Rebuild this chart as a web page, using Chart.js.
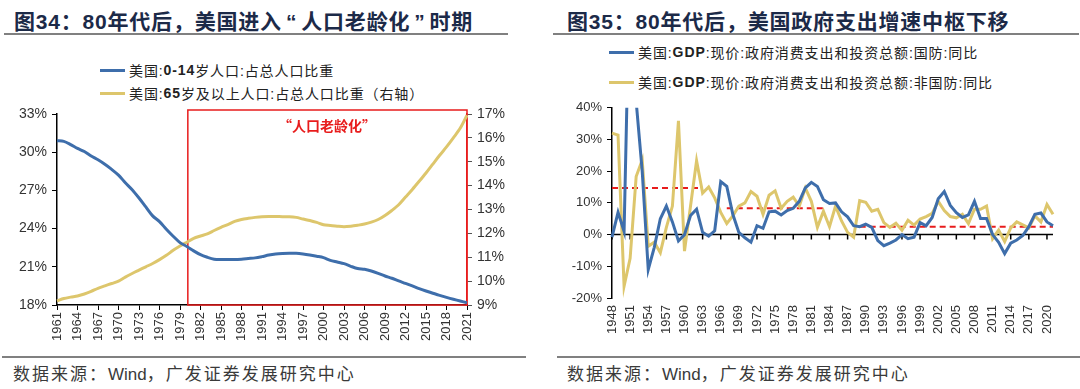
<!DOCTYPE html>
<html>
<head>
<meta charset="utf-8">
<script src="https://cdn.jsdelivr.net/npm/chart.js@4.4.1/dist/chart.umd.min.js"></script>
<style>
  body { margin: 0; width: 1080px; height: 389px; background: #fff; position: relative; overflow: hidden;
         font-family: "Liberation Sans", "Noto Sans CJK SC", sans-serif; }
  .title { position: absolute; top: 5px; font-size: 21px; font-weight: bold; color: #1c2a48; white-space: nowrap; letter-spacing: 0.8px; }
  .title .q { margin: 0 4px; }
  .rule { position: absolute; height: 2px; background: #808080; }
  .leg { position: absolute; font-size: 14px; color: #222; white-space: nowrap; display: flex; align-items: center; height: 18px; letter-spacing: 0.9px; }
  .leg i { display: inline-block; width: 25px; height: 3px; margin-right: 4px; }
  .src { position: absolute; top: 360px; font-size: 17px; color: #3a3a3a; letter-spacing: 2px;
         font-family: "Liberation Sans", "Noto Sans CJK SC", sans-serif; }
  .src span { letter-spacing: 0; }
  canvas { position: absolute; }
</style>
</head>
<body>

<div class="title" style="left:14px">图34：80年代后，美国进入<span class="q">“</span>人口老龄化<span class="q">”</span>时期</div>
<div class="rule" style="left:4px; width:504px; top:33px"></div>
<div class="leg" style="left:100px; top:61px"><i style="background:#3e6eab"></i>美国:<b>0-14</b>岁人口:占总人口比重</div>
<div class="leg" style="left:100px; top:84px"><i style="background:#ddc66c"></i>美国:<b>65</b>岁及以上人口:占总人口比重（右轴）</div>
<canvas id="chart34" width="520" height="250" style="left:0; top:100px"></canvas>
<div class="rule" style="left:2px; width:524px; top:356px"></div>
<div class="src" style="left:13px">数据来源：<span>Wind</span>，广发证券发展研究中心</div>

<div class="title" style="left:567px">图35：80年代后，美国政府支出增速中枢下移</div>
<div class="rule" style="left:553px; width:526px; top:33px"></div>
<div class="leg" style="left:609px; top:43px"><i style="background:#3e6eab"></i>美国:<b>GDP</b>:现价:政府消费支出和投资总额:国防:同比</div>
<div class="leg" style="left:609px; top:73px"><i style="background:#ddc66c"></i>美国:<b>GDP</b>:现价:政府消费支出和投资总额:非国防:同比</div>
<canvas id="chart35" width="540" height="255" style="left:540px; top:95px"></canvas>
<div class="rule" style="left:557px; width:523px; top:356px"></div>
<div class="src" style="left:567px">数据来源：<span>Wind</span>，广发证券发展研究中心</div>

<script>
// 图34 人口结构
const popYears = [
  '1961','1962','1963','1964','1965','1966','1967','1968','1969','1970',
  '1971','1972','1973','1974','1975','1976','1977','1978','1979','1980',
  '1981','1982','1983','1984','1985','1986','1987','1988','1989','1990',
  '1991','1992','1993','1994','1995','1996','1997','1998','1999','2000',
  '2001','2002','2003','2004','2005','2006','2007','2008','2009','2010',
  '2011','2012','2013','2014','2015','2016','2017','2018','2019','2020','2021'
];
const kidsShare = [
  30.9, 30.85, 30.6, 30.3, 30.05, 29.7, 29.4, 29.05, 28.65, 28.2,
  27.6, 27.05, 26.4, 25.7, 25.0, 24.55, 23.95, 23.4, 22.9, 22.6,
  22.25, 21.95, 21.75, 21.6, 21.57, 21.57, 21.57, 21.6, 21.65, 21.7,
  21.8, 21.92, 22.0, 22.04, 22.06, 22.06, 22.01, 21.93, 21.83, 21.72,
  21.51, 21.38, 21.25, 21.04, 20.86, 20.8, 20.67, 20.49, 20.28, 20.1,
  19.89, 19.7, 19.5, 19.29, 19.1, 18.92, 18.76, 18.6, 18.45, 18.31, 18.18
];
const elderShare = [
  9.17, 9.27, 9.33, 9.38, 9.46, 9.57, 9.7, 9.8, 9.9, 10.0,
  10.17, 10.32, 10.46, 10.6, 10.74, 10.9, 11.08, 11.29, 11.47, 11.63,
  11.79, 11.89, 11.98, 12.12, 12.25, 12.37, 12.5, 12.58, 12.63, 12.67,
  12.7, 12.71, 12.71, 12.7, 12.7, 12.67, 12.6, 12.54, 12.46, 12.36,
  12.33, 12.3, 12.28, 12.3, 12.34, 12.39, 12.47, 12.58, 12.75, 12.96,
  13.2, 13.52, 13.84, 14.18, 14.53, 14.9, 15.27, 15.62, 16.0, 16.4, 16.95
];
const agingStart = '1980';
const agingLabel = '“人口老龄化”';

// 图35 政府支出
const govYears = [
  '1948','1949','1950','1951','1952','1953','1954','1955','1956','1957',
  '1958','1959','1960','1961','1962','1963','1964','1965','1966','1967',
  '1968','1969','1970','1971','1972','1973','1974','1975','1976','1977',
  '1978','1979','1980','1981','1982','1983','1984','1985','1986','1987',
  '1988','1989','1990','1991','1992','1993','1994','1995','1996','1997',
  '1998','1999','2000','2001','2002','2003','2004','2005','2006','2007',
  '2008','2009','2010','2011','2012','2013','2014','2015','2016','2017',
  '2018','2019','2020','2021'
];
const defenseYoY = [
  -0.8, 7, 1, 88, 42, 20, -11, -4, 5, 9,
  4, -2, 0, 6, 8, 0.7, -0.5, 1.2, 16.7, 15.2,
  6.4, 0.7, -1, -2.4, 2.8, 2, 7.2, 7.4, 6.2, 7.6,
  8.3, 10.5, 14.7, 16.5, 15.2, 11, 9.8, 10, 7.2, 5.6,
  2.8, 2.5, 3.3, 2.3, -1.9, -3.5, -2.7, -1.7, 0, -1.3,
  -0.8, 3.8, 2.8, 5.4, 11.3, 13.6, 9.2, 6.9, 5.4, 6.2,
  10.5, 5.1, 5.1, 0, -2.4, -6, -2.7, -1.7, -0.3, 2.5,
  6.4, 6.8, 4, 2.8
];
const nonDefenseYoY = [
  32, 31.4, -16.3, -7.5, 18.3, 23.5, -3.7, -2.4, -5.7, 2.3,
  9, 35.9, -5.2, 9, 23.3, 13.1, 15, 11.6, 7, 3.5,
  5.9, 9, 10, 13.6, 12.1, 6.4, 12.4, 13.8, 8.3, 10.5,
  11.8, 9, 14.7, 10.5, 2.3, 7.4, 2.5, 9, 4.3, 0.7,
  -0.8, 10.7, 10.2, 7.4, 8, 3.8, 2.3, 3.6, 1.4, 4.5,
  3, 4.9, 5.7, 6.7, 10.5, 7.6, 5.7, 5.3, 6.4, 3.5,
  8, 8, 9, -1.3, 1.4, -2.2, 2.1, 4, 3.1, 2.1,
  5.9, 4, 9.5, 6.4
];
// 中枢（红色虚线）：起止年份和水平
const centerFrom = ['1948', '1967', '1989'];
const centerTo = ['1963', '1983', '2021'];
const centerLevel = [14.7, 8.3, 2.5];

const BLUE = '#3e6eab';
const GOLD = '#ddc66c';
const RED = '#e81c1c';
const tickFont = { family: '"Liberation Sans", Arial, sans-serif', size: 13 };

// 每3年一个刻度
const everyThird = (scale) => { scale.ticks = scale.ticks.filter((t, i) => i % 3 === 0); };

const agingBox = {
  id: 'agingBox',
  beforeDatasetsDraw(chart) {
    const { ctx, chartArea, scales: { x } } = chart;
    const left = x.getPixelForValue(popYears.indexOf(agingStart)) + 1;
    ctx.save();
    ctx.strokeStyle = RED;
    ctx.lineWidth = 1.5;
    ctx.strokeRect(left, chartArea.top - 4, chartArea.right - left, chartArea.bottom - chartArea.top + 4);
    ctx.fillStyle = RED;
    ctx.font = 'bold 14px "Noto Sans CJK SC", sans-serif';
    ctx.textAlign = 'center';
    ctx.textBaseline = 'middle';
    ctx.fillText(agingLabel, 327, chartArea.top + 12);
    ctx.restore();
  }
};

new Chart(document.getElementById('chart34'), {
  type: 'line',
  data: {
    labels: popYears,
    datasets: [
      { label: '美国:0-14岁人口:占总人口比重', data: kidsShare, yAxisID: 'y', borderColor: BLUE, borderWidth: 3, pointRadius: 0, tension: 0.3 },
      { label: '美国:65岁及以上人口:占总人口比重（右轴）', data: elderShare, yAxisID: 'y1', borderColor: GOLD, borderWidth: 3, pointRadius: 0, tension: 0.3 }
    ]
  },
  options: {
    responsive: false,
    animation: false,
    layout: { padding: { top: 14 } },
    plugins: { legend: { display: false }, tooltip: { enabled: false } },
    scales: {
      x: {
        afterBuildTicks: everyThird,
        afterFit: (s) => { s.height = 45; },
        border: { color: '#000', width: 1.5 },
        grid: { drawOnChartArea: false, tickLength: 5, tickColor: '#000' },
        ticks: { autoSkip: false, minRotation: 90, maxRotation: 90, padding: 2, color: '#333', font: tickFont,
                 callback: function (v) { return this.getLabelForValue(v); } }
      },
      y: {
        position: 'left', min: 18, max: 33,
        afterFit: (s) => { s.width = 57; },
        border: { color: '#000', width: 1.5 },
        grid: { drawOnChartArea: false, tickLength: 5, tickColor: '#000' },
        ticks: { stepSize: 3, padding: 5, color: '#333', font: { ...tickFont, size: 14 }, callback: (v) => v + '%' }
      },
      y1: {
        position: 'right', min: 9, max: 17,
        afterFit: (s) => { s.width = 53; },
        border: { color: RED, width: 1.5 },
        grid: { drawOnChartArea: false, tickLength: 5, tickColor: '#555' },
        ticks: { stepSize: 1, padding: 5, color: '#333', font: { ...tickFont, size: 14 }, callback: (v) => v + '%' }
      }
    }
  },
  plugins: [agingBox]
});

// 零轴线（标签在底部，轴线在0处）
const zeroAxis = {
  id: 'zeroAxis',
  beforeDatasetsDraw(chart) {
    const { ctx, chartArea, scales: { x, y } } = chart;
    const y0 = y.getPixelForValue(0);
    ctx.save();
    ctx.strokeStyle = '#000';
    ctx.lineWidth = 1.5;
    ctx.beginPath();
    ctx.moveTo(chartArea.left, y0);
    ctx.lineTo(chartArea.right, y0);
    x.ticks.forEach((t, i) => {
      const px = x.getPixelForTick(i);
      ctx.moveTo(px, y0);
      ctx.lineTo(px, y0 + 5);
    });
    ctx.stroke();
    ctx.restore();
  }
};

const centerSets = centerLevel.map((lvl, k) => {
  const a = govYears.indexOf(centerFrom[k]);
  const b = govYears.indexOf(centerTo[k]);
  return {
    label: 'center' + k,
    data: govYears.map((yr, i) => (i >= a && i <= b ? lvl : null)),
    borderColor: RED, borderWidth: 2, borderDash: [6, 4], pointRadius: 0, spanGaps: false
  };
});

new Chart(document.getElementById('chart35'), {
  type: 'line',
  data: {
    labels: govYears,
    datasets: [
      { label: '美国:GDP:现价:政府消费支出和投资总额:国防:同比', data: defenseYoY, borderColor: BLUE, borderWidth: 3, pointRadius: 0,
        clip: { left: 3, top: 0, right: 3, bottom: 3 } },
      { label: '美国:GDP:现价:政府消费支出和投资总额:非国防:同比', data: nonDefenseYoY, borderColor: GOLD, borderWidth: 3, pointRadius: 0,
        clip: { left: 3, top: 0, right: 3, bottom: 3 } },
      ...centerSets
    ]
  },
  options: {
    responsive: false,
    animation: false,
    layout: { padding: { top: 9, right: 27 } },
    plugins: { legend: { display: false }, tooltip: { enabled: false } },
    scales: {
      x: {
        afterBuildTicks: everyThird,
        afterFit: (s) => { s.height = 52; },
        border: { display: false },
        grid: { display: false, drawTicks: false },
        ticks: { autoSkip: false, minRotation: 90, maxRotation: 90, padding: 7, color: '#333', font: tickFont,
                 callback: function (v) { return this.getLabelForValue(v); } }
      },
      y: {
        min: -20, max: 40,
        afterFit: (s) => { s.width = 72; },
        border: { color: '#000', width: 1.5 },
        grid: { drawOnChartArea: false, tickLength: 5, tickColor: '#000' },
        ticks: { stepSize: 10, padding: 5, color: '#333', font: tickFont, callback: (v) => v + '%' }
      }
    }
  },
  plugins: [zeroAxis]
});
</script>
</body>
</html>
